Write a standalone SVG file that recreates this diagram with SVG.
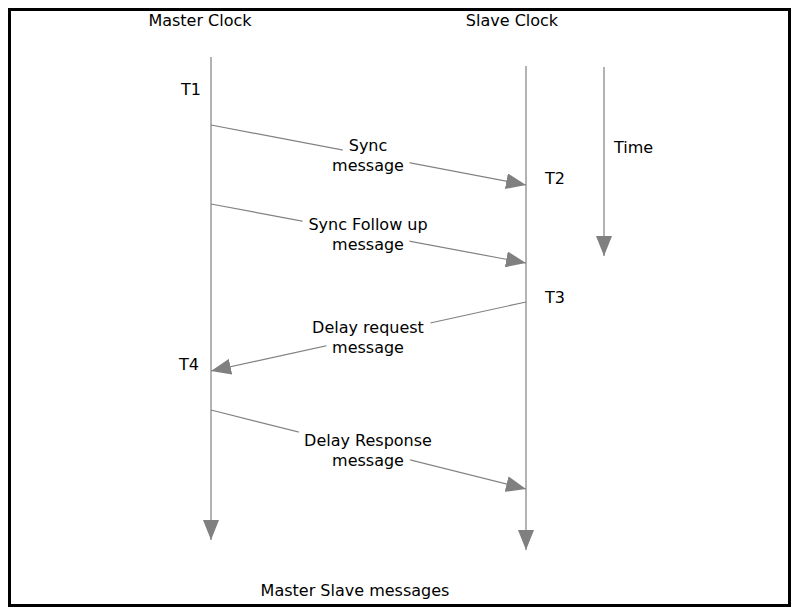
<svg xmlns="http://www.w3.org/2000/svg" width="798" height="614" viewBox="0 0 798 614">
<style>
text{font-family:"DejaVu Sans",Verdana,sans-serif;font-size:16px;fill:#000}
.c{text-anchor:middle}
.lb{paint-order:stroke;stroke:#fff;stroke-width:14px;stroke-linejoin:round}
line{stroke:#808080;stroke-width:1.2}
</style>
<defs>
<marker id="ah" markerUnits="userSpaceOnUse" markerWidth="22" markerHeight="16" refX="20" refY="8" orient="auto">
<path d="M0,0 L20,8 L0,16 Z" fill="#808080"/>
</marker>
</defs>
<rect x="9.5" y="9.5" width="780" height="596" fill="#fff" stroke="#000" stroke-width="3"/>
<g id="master"><line x1="211" y1="57" x2="211" y2="540" marker-end="url(#ah)"/><text class="c" x="200" y="26">Master Clock</text></g>
<g id="slave"><line x1="526" y1="66" x2="526" y2="550" marker-end="url(#ah)"/><text class="c" x="512" y="26">Slave Clock</text></g>
<g id="time"><line x1="604" y1="67" x2="604" y2="256" marker-end="url(#ah)"/><text x="614" y="153">Time</text></g>
<g id="connectors">
<line x1="211" y1="125" x2="526" y2="185" marker-end="url(#ah)"/>
<line x1="211" y1="204" x2="526" y2="263" marker-end="url(#ah)"/>
<line x1="526" y1="302" x2="211" y2="371" marker-end="url(#ah)"/>
<line x1="211" y1="410" x2="526" y2="489" marker-end="url(#ah)"/>
</g>
<g id="labels">
<text class="c lb" x="368" y="151">Sync</text><text class="c lb" x="368" y="171">message</text>
<text class="c lb" x="368" y="230">Sync Follow up</text><text class="c lb" x="368" y="250">message</text>
<text class="c lb" x="368" y="333">Delay request</text><text class="c lb" x="368" y="353">message</text>
<text class="c lb" x="368" y="446">Delay Response</text><text class="c lb" x="368" y="466">message</text>
<text x="181" y="95">T1</text><text x="545" y="184">T2</text><text x="545" y="303">T3</text><text x="179" y="370">T4</text>
<text class="c" x="355" y="596">Master Slave messages</text>
</g>
</svg>
